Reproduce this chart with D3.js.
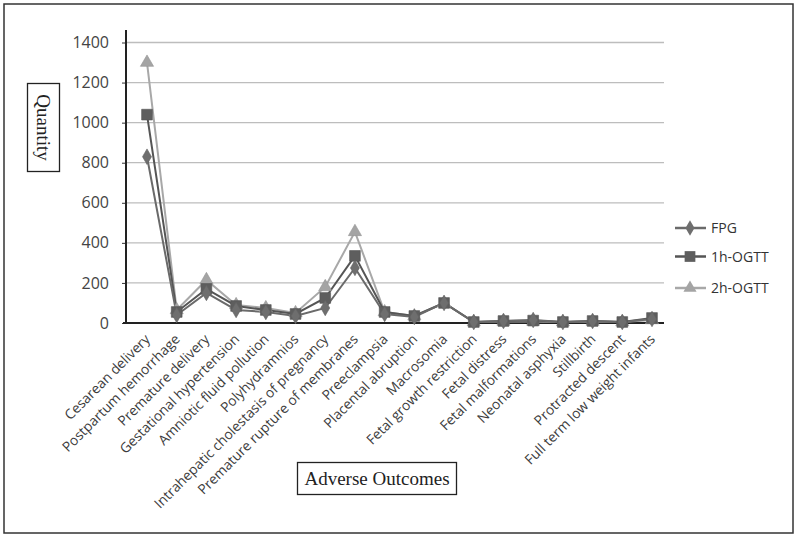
<!DOCTYPE html>
<html><head><meta charset="utf-8">
<script src="https://cdn.jsdelivr.net/npm/d3@7"></script>
<style>body{margin:0;background:#fff;}svg{display:block;}</style>
</head><body>
<svg id="c" width="800" height="539"></svg>
<script>
const categories = ["Cesarean delivery","Postpartum hemorrhage","Premature delivery","Gestational hypertension","Amniotic fluid pollution","Polyhydramnios","Intrahepatic cholestasis of pregnancy","Premature rupture of membranes","Preeclampsia","Placental abruption","Macrosomia","Fetal growth restriction","Fetal distress","Fetal malformations","Neonatal asphyxia","Stillbirth","Protracted descent","Full term low weight infants"];
const fpg   = [830, 40, 150, 65, 55, 35, 75, 275, 45, 30, 100, 5, 10, 15, 5, 10, 5, 20];
const ogtt1 = [1040, 55, 170, 85, 65, 45, 125, 335, 55, 35, 100, 5, 10, 12, 5, 10, 5, 25];
const ogtt2 = [1300, 65, 215, 90, 75, 50, 180, 455, 55, 35, 100, 5, 8, 8, 5, 8, 5, 15];
const yTicks = [0, 200, 400, 600, 800, 1000, 1200, 1400];
const seriesNames = ["FPG", "1h-OGTT", "2h-OGTT"];

const svg = d3.select("#c");
const x0 = 126, x1 = 664, yTop = 42.5, yBot = 323;
const x = d3.scalePoint().domain(categories).range([147, 652]);
const y = d3.scaleLinear().domain([0, 1400]).range([yBot, yTop]);

// outer border
svg.append("rect").attr("x",4).attr("y",4).attr("width",789).attr("height",529)
  .attr("fill","none").attr("stroke","#333").attr("stroke-width",1.5);

// gridlines
svg.append("g").selectAll("line").data(yTicks.filter(d=>d>0)).join("line")
  .attr("x1",x0).attr("x2",x1).attr("y1",d=>y(d)).attr("y2",d=>y(d))
  .attr("stroke","#bdbdbd").attr("stroke-width",1.3);

// y axis
const yAxis = d3.axisLeft(y).tickValues(yTicks).tickSize(4).tickPadding(13).tickFormat(d3.format("d"));
const gy = svg.append("g").attr("transform",`translate(${x0},0)`).call(yAxis);
gy.select(".domain").remove();
gy.selectAll(".tick line").attr("stroke","#333");
gy.selectAll(".tick text").attr("font-family","Open Sans").attr("font-size",16).attr("fill","#444");
svg.append("line").attr("x1",x0).attr("x2",x0).attr("y1",30).attr("y2",yBot+1)
  .attr("stroke","#222").attr("stroke-width",2);

// x axis
svg.append("line").attr("x1",x0-3).attr("x2",x1).attr("y1",yBot).attr("y2",yBot)
  .attr("stroke","#222").attr("stroke-width",2);
const gx = svg.append("g");
gx.selectAll("text").data(categories).join("text")
  .attr("transform",d=>`translate(${x(d)+4},${yBot+17}) rotate(-45)`)
  .attr("text-anchor","end").attr("font-family","Open Sans").attr("font-size",13.8)
  .attr("fill","#3c3c3c").text(d=>d);

// series
const styles = [
  {data:fpg, line:"#6a6a6a", fill:"#6e6e6e", sym:d3.symbolDiamond, size:70},
  {data:ogtt1, line:"#555", fill:"#5e5e5e", sym:d3.symbolSquare, size:115},
  {data:ogtt2, line:"#a8a8a8", fill:"#a4a4a4", sym:d3.symbolTriangle, size:75}
];
const line = d3.line().x((d,i)=>x(categories[i])).y(d=>y(d));
[2,1,0].forEach(k=>{
  const s = styles[k];
  svg.append("path").datum(s.data).attr("d",line).attr("fill","none")
    .attr("stroke",s.line).attr("stroke-width",2);
});
[2,1,0].forEach(k=>{
  const s = styles[k];
  svg.append("g").selectAll("path").data(s.data).join("path")
    .attr("d",d3.symbol().type(s.sym).size(s.size))
    .attr("transform",(d,i)=>`translate(${x(categories[i])},${y(d)})`)
    .attr("fill",s.fill).attr("stroke",d3.color(s.fill).darker(0.3)).attr("stroke-width",0.6);
});

// legend
const legY = [228, 256.5, 288];
seriesNames.forEach((n,k)=>{
  const s = styles[k];
  const g = svg.append("g").attr("transform",`translate(0,${legY[k]})`);
  g.append("line").attr("x1",675).attr("x2",706).attr("stroke",s.line).attr("stroke-width",2.5);
  g.append("path").attr("d",d3.symbol().type(s.sym).size(s.size)).attr("transform","translate(690,0)").attr("fill",s.fill);
  g.append("text").attr("x",711).attr("y",5).attr("font-family","Open Sans").attr("font-size",14)
    .attr("fill","#333").text(n);
});

// Quantity box
svg.append("rect").attr("x",27.5).attr("y",83.5).attr("width",32).attr("height",88)
  .attr("fill","#fff").attr("stroke","#222").attr("stroke-width",1.3);
svg.append("text").attr("transform","translate(37,127.5) rotate(90)").attr("text-anchor","middle")
  .attr("font-family","Liberation Serif").attr("font-size",19).attr("fill","#222").text("Quantity");

// Adverse Outcomes box
svg.append("rect").attr("x",297.5).attr("y",462.5).attr("width",159).attr("height",32)
  .attr("fill","#fff").attr("stroke","#222").attr("stroke-width",1.3);
svg.append("text").attr("x",377).attr("y",485).attr("text-anchor","middle")
  .attr("font-family","Liberation Serif").attr("font-size",19).attr("fill","#222").text("Adverse Outcomes");
</script>
</body></html>
